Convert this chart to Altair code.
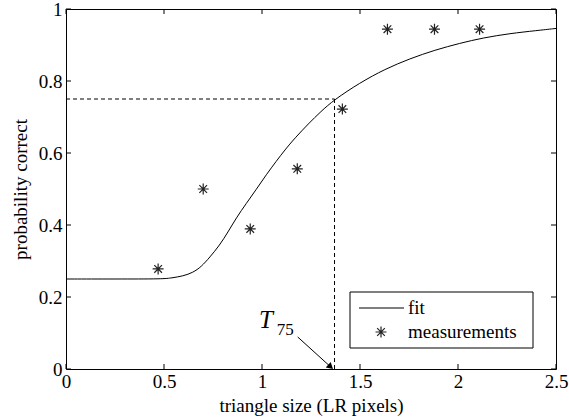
import altair as alt
import pandas as pd

# Psychometric fit curve (sampled along the fitted function)
fit_x = [0.0, 0.25, 0.50, 0.537, 0.597, 0.648, 0.690, 0.733, 0.784, 0.826, 0.869,
         0.920, 0.971, 1.022, 1.074, 1.116, 1.167, 1.238, 1.300, 1.366, 1.499,
         1.627, 1.754, 1.882, 2.010, 2.129, 2.265, 2.400, 2.500]
fit_y = [0.250, 0.250, 0.250, 0.253, 0.258, 0.268, 0.284, 0.310, 0.344, 0.380, 0.420,
         0.460, 0.499, 0.540, 0.578, 0.608, 0.641, 0.682, 0.715, 0.747, 0.795,
         0.833, 0.862, 0.886, 0.905, 0.920, 0.932, 0.940, 0.946]

# Measured proportions correct
meas_x = [0.47, 0.70, 0.94, 1.18, 1.41, 1.64, 1.88, 2.11]
meas_y = [0.278, 0.500, 0.389, 0.556, 0.722, 0.944, 0.944, 0.944]

# 75% threshold
t75 = 1.37
p75 = 0.75

x_ticks = [0, 0.5, 1, 1.5, 2, 2.5]
y_ticks = [0, 0.2, 0.4, 0.6, 0.8, 1]

# Annotation arrow (tail -> head) and label anchor, in data units
arrow_x = [1.182, 1.350]
arrow_y = [0.089, 0.006]
label_x = [0.985, 1.075]
label_y = [0.115, 0.094]

W, H = 490, 360
FONT = "Liberation Serif, Times New Roman, Times, serif"
FS = 19
TK = 5
STAR = "M-1,0L1,0M0,-1L0,1M-0.7,-0.7L0.7,0.7M-0.7,0.7L0.7,-0.7"

xs = alt.Scale(domain=[0, 2.5], nice=False, zero=False)
ys = alt.Scale(domain=[0, 1], nice=False, zero=False)

xaxis = alt.Axis(values=x_ticks, format="~g", title="triangle size (LR pixels)",
                 ticks=False, domain=False, grid=False, labelPadding=3,
                 titlePadding=5, labelFlush=False)
yaxis = alt.Axis(values=y_ticks, format="~g", title="probability correct",
                 ticks=False, domain=False, grid=False, labelPadding=4,
                 titlePadding=8, labelFlush=False)

fit_df = pd.DataFrame({"x": fit_x, "y": fit_y})
meas_df = pd.DataFrame({"x": meas_x, "y": meas_y})

fit = alt.Chart(fit_df).mark_line(color="black", strokeWidth=1, interpolate="basis").encode(
    x=alt.X("x:Q", scale=xs, axis=xaxis),
    y=alt.Y("y:Q", scale=ys, axis=yaxis),
)

meas = alt.Chart(meas_df).mark_point(shape=STAR, size=120, filled=False, color="#222222",
                                     strokeWidth=1.2, opacity=1).encode(
    x=alt.X("x:Q", scale=xs), y=alt.Y("y:Q", scale=ys)
)

guide_df = pd.DataFrame({"x": [0, t75], "x2": [t75, t75], "y": [p75, 0], "y2": [p75, p75]})
guides = alt.Chart(guide_df).mark_rule(color="black", strokeWidth=1, strokeDash=[4, 3]).encode(
    x=alt.X("x:Q", scale=xs), x2="x2:Q", y=alt.Y("y:Q", scale=ys), y2="y2:Q"
)

arrow_df = pd.DataFrame({"x": [arrow_x[0]], "x2": [arrow_x[1]], "y": [arrow_y[0]], "y2": [arrow_y[1]]})
arrow = alt.Chart(arrow_df).mark_rule(color="black", strokeWidth=1).encode(
    x=alt.X("x:Q", scale=xs), x2="x2:Q", y=alt.Y("y:Q", scale=ys), y2="y2:Q"
)
head_df = pd.DataFrame({"x": [arrow_x[1]], "y": [arrow_y[1]]})
head = alt.Chart(head_df).mark_point(shape="triangle-up", size=55, filled=True, color="black",
                                     angle=132, opacity=1).encode(
    x=alt.X("x:Q", scale=xs), y=alt.Y("y:Q", scale=ys)
)

lab_t = alt.Chart(pd.DataFrame({"x": [label_x[0]], "y": [label_y[0]], "t": ["T"]})).mark_text(
    font=FONT, fontSize=25, fontStyle="italic", align="left", baseline="alphabetic", color="black"
).encode(x=alt.X("x:Q", scale=xs), y=alt.Y("y:Q", scale=ys), text="t:N")
lab_s = alt.Chart(pd.DataFrame({"x": [label_x[1]], "y": [label_y[1]], "t": ["75"]})).mark_text(
    font=FONT, fontSize=17, align="left", baseline="alphabetic", color="black"
).encode(x=alt.X("x:Q", scale=xs), y=alt.Y("y:Q", scale=ys), text="t:N")

# Inward tick marks on all four sides
xt_df = pd.DataFrame({"v": x_ticks})
yt_df = pd.DataFrame({"v": y_ticks})
xt_bot = alt.Chart(xt_df).mark_rule(color="black").encode(
    x=alt.X("v:Q", scale=xs), y=alt.value(H), y2=alt.value(H - TK))
xt_top = alt.Chart(xt_df).mark_rule(color="black").encode(
    x=alt.X("v:Q", scale=xs), y=alt.value(0), y2=alt.value(TK))
yt_left = alt.Chart(yt_df).mark_rule(color="black").encode(
    y=alt.Y("v:Q", scale=ys), x=alt.value(0), x2=alt.value(TK))
yt_right = alt.Chart(yt_df).mark_rule(color="black").encode(
    y=alt.Y("v:Q", scale=ys), x=alt.value(W), x2=alt.value(W - TK))

# Legend box
one = pd.DataFrame({"a": [0]})
leg_box = alt.Chart(one).mark_rect(fill="white", stroke="black", strokeWidth=1).encode(
    x=alt.value(284), x2=alt.value(467), y=alt.value(283), y2=alt.value(339))
leg_line = alt.Chart(one).mark_rule(color="black", strokeWidth=1).encode(
    x=alt.value(293), x2=alt.value(338), y=alt.value(299))
leg_star = alt.Chart(one).mark_point(shape=STAR, size=120, filled=False, color="#222222",
                                     strokeWidth=1.2, opacity=1).encode(
    x=alt.value(315), y=alt.value(323))
leg_fit = alt.Chart(one).mark_text(font=FONT, fontSize=FS, align="left", baseline="middle",
                                   color="black").encode(
    x=alt.value(342), y=alt.value(299), text=alt.value("fit"))
leg_meas = alt.Chart(one).mark_text(font=FONT, fontSize=FS, align="left", baseline="middle",
                                    color="black").encode(
    x=alt.value(342), y=alt.value(323), text=alt.value("measurements"))

chart = alt.layer(
    guides, fit, meas, arrow, head, lab_t, lab_s,
    xt_bot, xt_top, yt_left, yt_right,
    leg_box, leg_line, leg_star, leg_fit, leg_meas,
).properties(
    width=W, height=H,
    autosize=alt.AutoSizeParams(type="none"),
    padding={"left": 66, "top": 9, "right": 13, "bottom": 50},
    background="white",
).configure_view(
    stroke="black", strokeWidth=1
).configure_axis(
    labelFont=FONT, labelFontSize=FS, labelColor="black",
    titleFont=FONT, titleFontSize=FS, titleColor="black", titleFontWeight="normal",
)

chart.save("out.html", embed_options={"renderer": "svg", "actions": False})
